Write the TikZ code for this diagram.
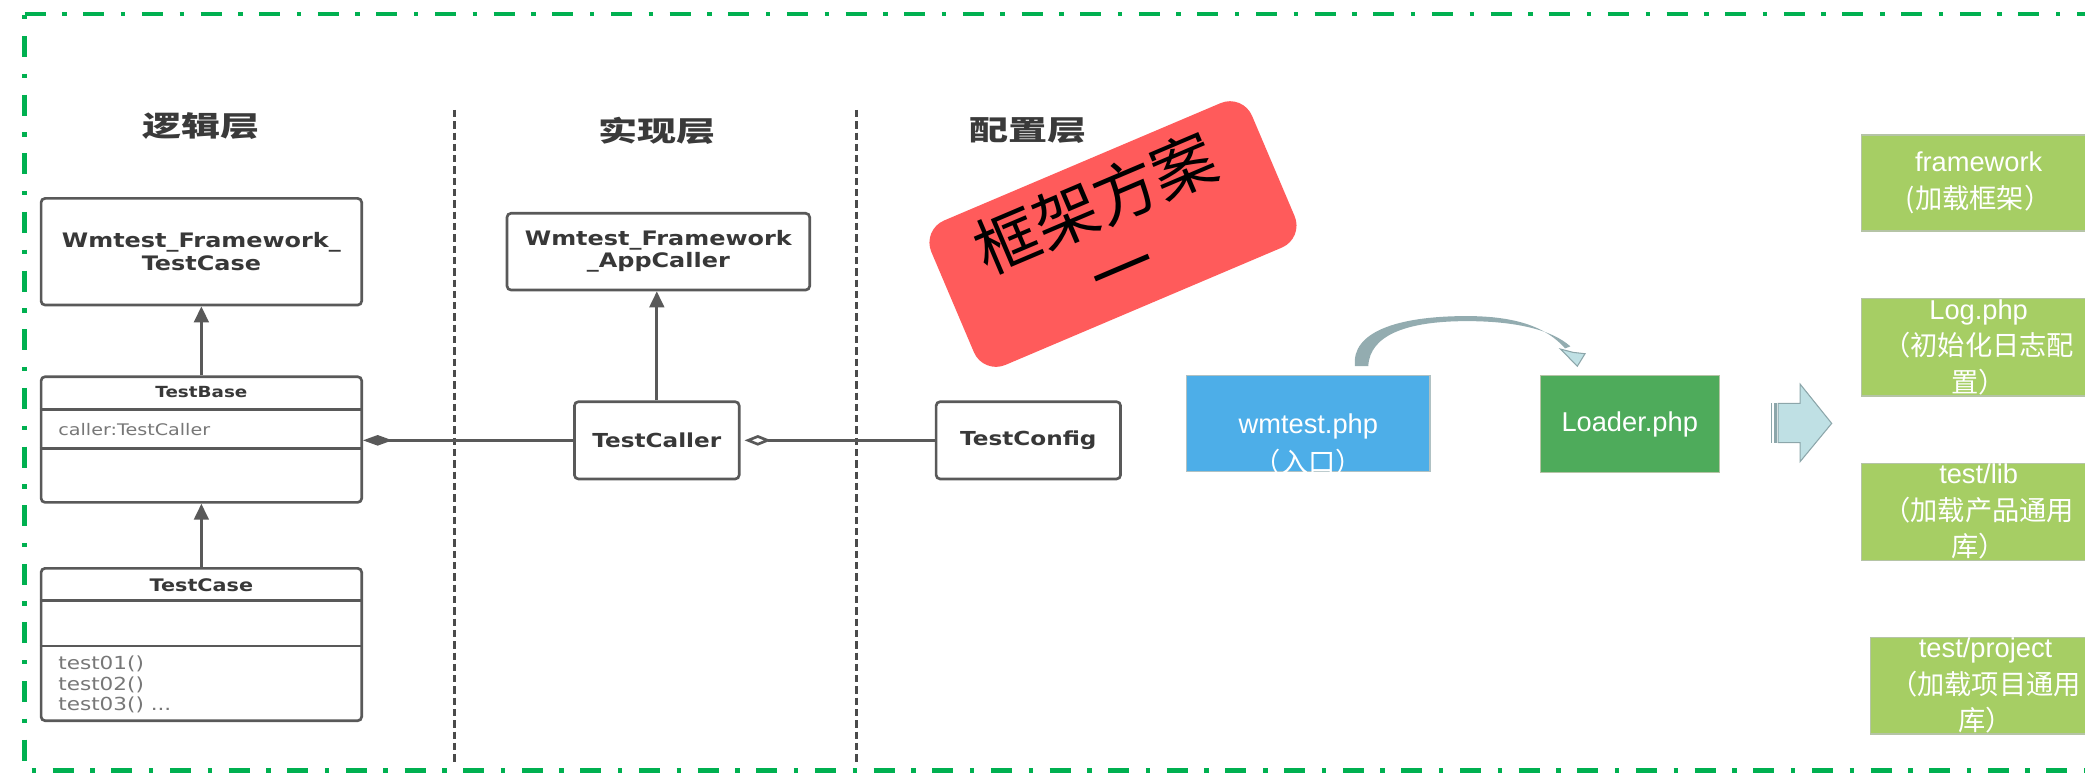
\documentclass[tikz,border=0pt]{standalone}
\usepackage{fontspec}
\usetikzlibrary{arrows.meta,calc}
\newfontfamily\umlfont{DejaVu Sans}[FakeStretch=1.2]
\newfontfamily\headfont{Noto Sans CJK SC}[FakeStretch=1.4]
\newfontfamily\cjkfont{Noto Sans CJK SC}
\newfontfamily\latfont{Liberation Sans}
\definecolor{bordergreen}{HTML}{00B050}
\definecolor{umlgray}{HTML}{595959}
\definecolor{umltext}{HTML}{383838}
\definecolor{umllight}{HTML}{777777}
\definecolor{headgray}{HTML}{3A3A3A}
\definecolor{sepgray}{HTML}{4A4A4A}
\definecolor{stampred}{HTML}{FF5B5B}
\definecolor{entryblue}{HTML}{4DAEE8}
\definecolor{loadgreen}{HTML}{4EAB5B}
\definecolor{modgreen}{HTML}{A6CE64}
\definecolor{modedge}{HTML}{B5C4A6}
\definecolor{flowshaft}{HTML}{93ACB0}
\definecolor{flowhead}{HTML}{BFE0E4}
\definecolor{flowedge}{HTML}{8CA6AA}
\begin{document}
\begin{tikzpicture}[x=1pt,y=-1pt,
  umlbox/.style={draw=umlgray,line width=2pt,rounded corners=3pt,fill=white,inner sep=0pt},
  umlline/.style={draw=umlgray,line width=2pt},
  boldtxt/.style={text=umltext,inner sep=0pt,align=center},
  headtxt/.style={text=headgray,inner sep=0pt,font=\headfont\bfseries\fontsize{21}{21}\selectfont},
  sepline/.style={draw=sepgray,line width=2.6pt,dash pattern=on 5.5pt off 3pt},
  borderline/.style={draw=bordergreen,line width=3.6pt,dash pattern=on 15.8pt off 12.5pt on 3.3pt off 12.5pt},
  flatbox/.style={inner sep=0pt,line width=0.8pt,align=center,text=white},
  modbox/.style={flatbox,fill=modgreen,draw=modedge,minimum width=176pt,minimum height=72.6pt,font=\fontsize{20.5}{27.5}\selectfont},
  inherit/.style={umlline,-{Triangle[length=12pt,width=11pt]}},
  stamptxt/.style={rotate=23,inner sep=0pt,text=black,font=\cjkfont\fontsize{48}{54}\selectfont},
]
\useasboundingbox (0,0) rectangle (1568,581.3);

% outer dash-dot frame
\draw[borderline,dash phase=0pt] (18.5,10.5) -- (1590,10.5);
\draw[borderline,dash phase=27.5pt] (18.5,10.5) -- (18.5,579.6);
\draw[borderline,dash phase=23pt] (18.5,579.6) -- (1590,579.6);

% layer separators
\draw[sepline] (341.8,82.7) -- (341.8,574);
\draw[sepline] (644,82.7) -- (644,574);

% headings
\node[headtxt] (h1) at (151,94.6) {逻辑层};
\node[headtxt] (h2) at (494.3,98.4) {实现层};
\node[headtxt] (h3) at (773.3,98.4) {配置层};

% UML boxes
\node[umlbox,minimum width=241.1pt,minimum height=80.2pt,boldtxt,
  font=\umlfont\bfseries\fontsize{15}{17}\selectfont] (b1) at (151.45,189.3)
  {Wmtest\_Framework\_\\TestCase};
\node[umlbox,minimum width=241.1pt,minimum height=94.5pt] (tb) at (151.45,330.55) {};
\node[umlbox,minimum width=241.1pt,minimum height=114.6pt] (tcase) at (151.45,484.7) {};
\node[umlbox,minimum width=227.6pt,minimum height=57.7pt,boldtxt,
  font=\umlfont\bfseries\fontsize{15}{16.5}\selectfont] (ac) at (495.1,189.25)
  {Wmtest\_Framework\\\_AppCaller};
\node[umlbox,minimum width=123.9pt,minimum height=58.1pt,boldtxt,
  font=\umlfont\bfseries\fontsize{14.5}{16}\selectfont] (tc) at (493.95,331.15) {TestCaller};
\node[umlbox,minimum width=138.7pt,minimum height=58.1pt,boldtxt,
  font=\umlfont\bfseries\fontsize{14.5}{16}\selectfont] (tconf) at (773.35,331.15) {TestConfig};

% TestBase compartments
\draw[umlline] ($(tb.north west)+(0,25.5)$) -- ($(tb.north east)+(0,25.5)$);
\draw[umlline] ($(tb.north west)+(0,55.1)$) -- ($(tb.north east)+(0,55.1)$);
\node[boldtxt,font=\umlfont\bfseries\fontsize{11.5}{13}\selectfont] (tbt) at ($(tb.north)+(0,12.5)$) {TestBase};
\node[inner sep=0pt,anchor=west,text=umllight,font=\umlfont\fontsize{12}{14}\selectfont] (tba)
  at ($(tb.north west)+(13.8,40.8)$) {caller:TestCaller};

% TestCase compartments
\draw[umlline] ($(tcase.north west)+(0,25.1)$) -- ($(tcase.north east)+(0,25.1)$);
\draw[umlline] ($(tcase.north west)+(0,59.4)$) -- ($(tcase.north east)+(0,59.4)$);
\node[boldtxt,font=\umlfont\bfseries\fontsize{13}{15}\selectfont] (tct) at ($(tcase.north)+(0,13.8)$) {TestCase};
\node[inner sep=0pt,anchor=west,align=left,text=umllight,font=\umlfont\fontsize{13.5}{15.7}\selectfont] (tcm)
  at ($(tcase.north west)+(13.8,88.3)$) {test01()\\test02()\\test03() ...};

% UML relations
\draw[inherit] (tb.north) -- (b1.south);
\draw[inherit] (tcase.north) -- (tb.south);
\draw[inherit] (tc.north) -- (tc.north |- ac.south);
\draw[umlline,-{Diamond[length=22pt,width=8pt]}] (tc.west) -- (tc.west -| tb.east);
\draw[umlline,-{Diamond[open,fill=white,length=20pt,width=8pt]},shorten >=3pt] (tconf.west) -- (tc.east);

% red stamp
\node[fill=stampred,rounded corners=18pt,rotate=23,minimum width=262pt,minimum height=118pt,
  inner sep=0pt] (stamp) at (837,176) {};
\node[stamptxt] (stampa) at ($(stamp.center)+(-13,-23)$) {框架方案};
\node[stamptxt] (stampb) at ($(stamp.center)+(10,33)$) {一};

% loading flow
\node[flatbox,fill=entryblue,draw=flowedge!70,minimum width=183pt,minimum height=72.2pt] (wm) at (983.9,318.6) {};
\node[inner sep=0pt,align=center,text=white,font=\fontsize{20.5}{29}\selectfont] (wmt)
  at ($(wm.center)+(0,15.7)$) {{\latfont wmtest.php}\\{\cjkfont （入口）}};
\node[flatbox,fill=loadgreen,draw=modedge,minimum width=134.8pt,minimum height=73pt,
  font=\latfont\fontsize{20.5}{24}\selectfont] (ld) at (1225.6,319) {Loader.php};

% curved arrow wmtest -> Loader
\coordinate (cA) at ($(wm.north)+(35.1,-6.7)$);
\coordinate (cB) at ($(wm.north)+(45.1,-6.7)$);
\coordinate (cT) at ($(ld.north)+(-39.4,-6.7)$);
\fill[flowshaft] (cA) .. controls (1016,250) and (1050,237.7) .. (1103,237.7)
  .. controls (1140,237.7) and (1163,246) .. (1177,262) -- (1181,260.5)
  .. controls (1167,248) and (1140,241.5) .. (1103,241.5)
  .. controls (1058,241.5) and (1030,252) .. (cB) -- cycle;
\filldraw[fill=flowhead,draw=flowedge,line width=0.8pt,line join=miter]
  (1173.5,262.5) -- (1183,265) -- (1192,266) -- (cT) -- cycle;

% striped block arrow
\fill[flowedge] (1331.6,303.3) rectangle (1332.9,332.9);
\fill[flowedge] (1334.2,303.3) rectangle (1336.2,332.9);
\filldraw[fill=flowhead,draw=flowedge,line width=0.8pt]
  (1337.2,303.3) -- (1353.7,303.3) -- (1353.7,288.8) -- (1377.5,318.4)
  -- (1353.7,347.2) -- (1353.7,332.9) -- (1337.2,332.9) -- cycle;

% modules
\node[modbox,minimum height=72.2pt] (fw) at (1488,137.6) {{\latfont framework}\\{\cjkfont (加载框架）}};
\node[modbox,minimum height=73.4pt] (lg) at (1488,261.1) {{\latfont Log.php}\\{\cjkfont （初始化日志配}\\{\cjkfont 置）}};
\node[modbox,minimum height=72.8pt] (lib) at (1488,384.8) {{\latfont test/lib}\\{\cjkfont （加载产品通用}\\{\cjkfont 库）}};
\node[modbox,minimum width=173.7pt,minimum height=72.7pt] (prj) at (1493.2,515.65) {{\latfont test/project}\\{\cjkfont （加载项目通用}\\{\cjkfont 库）}};
\end{tikzpicture}
\end{document}
